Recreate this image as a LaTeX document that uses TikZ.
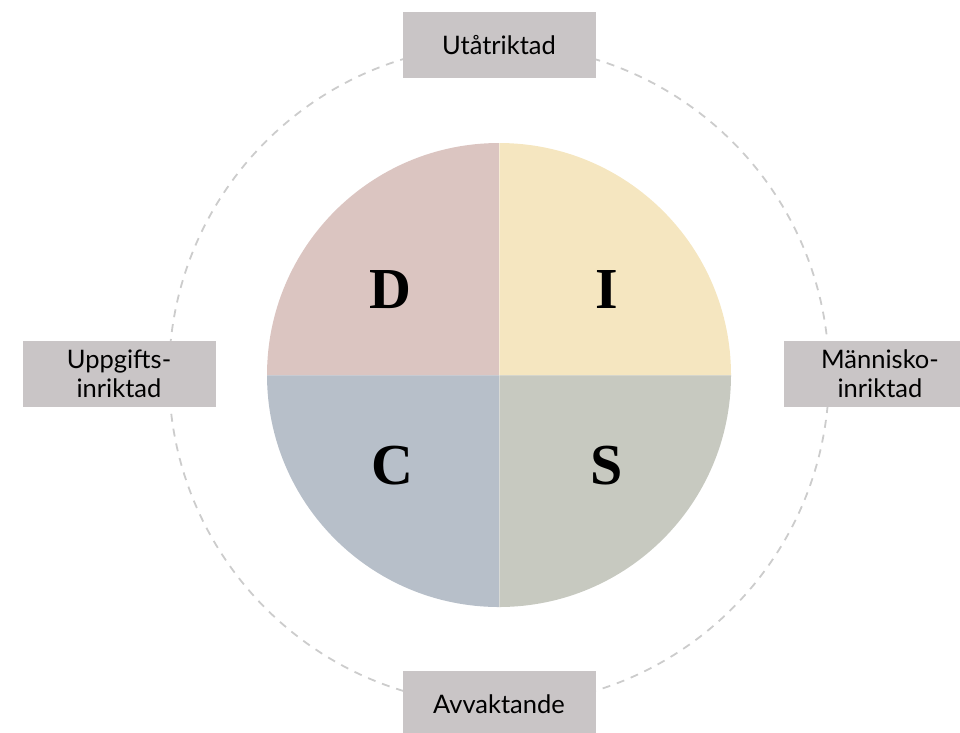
\documentclass[tikz,border=0pt]{standalone}
\usepackage{fontspec}
\setmainfont{Liberation Serif}
\newfontfamily\labelfont{Lato}
\definecolor{dquad}{HTML}{DBC5C1}
\definecolor{iquad}{HTML}{F5E6C0}
\definecolor{squad}{HTML}{C7C9C0}
\definecolor{cquad}{HTML}{B7BFC9}
\definecolor{boxgray}{HTML}{C9C5C6}
\definecolor{ringgray}{HTML}{CCCCCC}
\begin{document}
\begin{tikzpicture}[x=1pt, y=-1pt,
    axisbox/.style={fill=boxgray, minimum width=193pt, minimum height=66pt, inner sep=0pt,
        align=center, font=\labelfont\fontsize{25.5}{29}\selectfont},
    letter/.style={anchor=base, font=\fontsize{58}{60}\selectfont\bfseries}]
    \useasboundingbox (0,0) rectangle (960,732);
    \coordinate (o) at (499,375);
    % dashed ring behind the boxes
    \draw[ringgray, line width=1.8pt, dash pattern=on 8pt off 7pt] (o) circle (330);
    % DISC quadrants
    \foreach \c/\a in {squad/0, cquad/90, dquad/180, iquad/270}
        \fill[\c] (o) -- ++(\a:232) arc (\a:\a+90:232) -- cycle;
    \draw[white, opacity=0.35, line width=0.8pt] (o) ++(0,-232) -- ++(0,464);
    \draw[white, opacity=0.2, line width=0.8pt] (o) ++(-232,0) -- ++(464,0);
    \node[letter] (D) at (390,308) {D};
    \node[letter] (I) at (607,308) {I};
    \node[letter] (C) at (392,484) {C};
    \node[letter] (S) at (607,484) {S};
    % axis labels
    \node[axisbox] (top) at (499,45) {Utåtriktad};
    \node[axisbox] (bottom) at (499,704) {Avvaktande};
    \node[axisbox] (left) at (119,374) {Uppgifts-\\inriktad};
    \node[axisbox] (right) at (880,374) {Människo-\\inriktad};
\end{tikzpicture}
\end{document}
